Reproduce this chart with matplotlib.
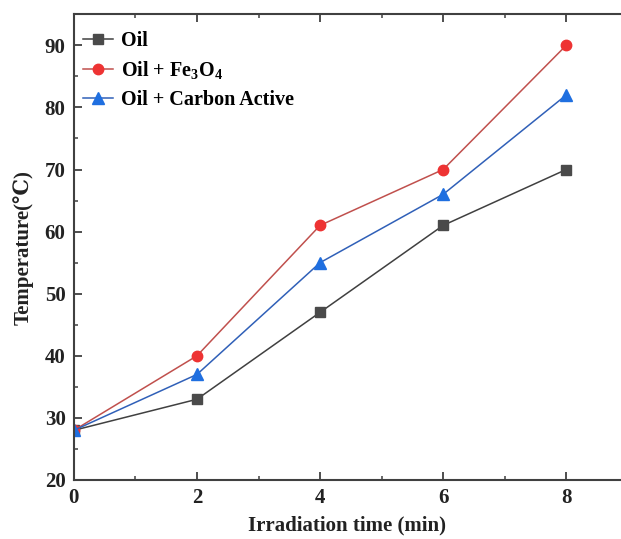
import matplotlib
matplotlib.use("Agg")
import matplotlib.pyplot as plt
from matplotlib.ticker import MultipleLocator

plt.rcParams['font.family'] = ['Liberation Serif', 'DejaVu Serif']
plt.rcParams['mathtext.fontset'] = 'custom'
plt.rcParams['mathtext.rm'] = 'Liberation Serif:bold'
plt.rcParams['mathtext.it'] = 'Liberation Serif:bold'
plt.rcParams['mathtext.bf'] = 'Liberation Serif:bold'

# data
tiempo = [0, 2, 4, 6, 8]
oil = [28, 33, 47, 61, 70]
oil_fe = [28, 40, 61, 70, 90]
oil_carbon = [28, 37, 55, 66, 82]
etiquetas = ["Oil", "Oil + Fe$_3$O$_4$", "Oil + Carbon Active"]

fig = plt.figure(figsize=(6.21, 5.39), dpi=100)
ax = fig.add_axes([0.119, 0.1095, 0.881, 0.864])

ax.plot(tiempo, oil, color='#404040', lw=1.1, marker='s', ms=7,
        mfc='#4a4a4a', mec='#4a4a4a', label=etiquetas[0])
ax.plot(tiempo, oil_fe, color='#c0504d', lw=1.1, marker='o', ms=7.5,
        mfc='#ee3333', mec='#ee3333', label=etiquetas[1])
ax.plot(tiempo, oil_carbon, color='#3060b8', lw=1.1, marker='^', ms=8,
        mfc='#1f6fe0', mec='#1f6fe0', label=etiquetas[2])

ax.set_xlim(0, 8.89)
ax.set_ylim(20, 95)
ax.xaxis.set_major_locator(MultipleLocator(2))
ax.xaxis.set_minor_locator(MultipleLocator(1))
ax.yaxis.set_major_locator(MultipleLocator(10))
ax.yaxis.set_minor_locator(MultipleLocator(5))

for s in ['left', 'bottom', 'top']:
    ax.spines[s].set_linewidth(1.5)
    ax.spines[s].set_color('#404040')
ax.spines['right'].set_visible(False)

ax.tick_params(which='both', direction='in', top=True, right=False, color='#404040')
ax.tick_params(which='major', length=6, width=1.3, labelsize=15, pad=6)
ax.tick_params(which='minor', length=3, width=1.1)
for lab in ax.get_xticklabels() + ax.get_yticklabels():
    lab.set_fontweight('bold')
    lab.set_color('#222222')

ax.set_xlabel('Irradiation time (min)', fontsize=15, fontweight='bold', labelpad=5, color='#222222')
ax.set_ylabel('Temperature(\u2103)', fontsize=15, fontweight='bold', labelpad=8, color='#222222')

leg = ax.legend(loc='upper left', frameon=False, prop={'weight': 'bold', 'size': 14.5},
                handlelength=1.5, handletextpad=0.35, labelspacing=0.42,
                borderaxespad=0.2, bbox_to_anchor=(-0.005, 0.99))

plt.savefig('out.png', dpi=100)
